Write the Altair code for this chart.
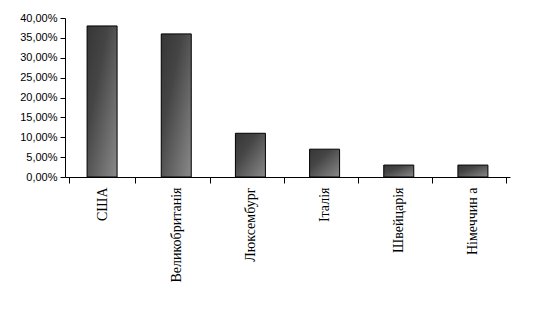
import altair as alt
import pandas as pd

countries = ["США", "Великобританія", "Люксембург", "Італія", "Швейцарія", "Німеччин а"]
shares = [38, 36, 11, 7, 3, 3]
y_ticks = [0, 5, 10, 15, 20, 25, 30, 35, 40]

df = pd.DataFrame({"country": countries, "share": shares})

grad = alt.Gradient(
    gradient="linear",
    stops=[alt.GradientStop(color="#363636", offset=0),
           alt.GradientStop(color="#454545", offset=0.35),
           alt.GradientStop(color="#8a8a8a", offset=1)],
    x1=0, y1=0, x2=1, y2=1,
)

chart = alt.Chart(df).mark_bar(
    fill=grad, stroke="black", strokeWidth=1, width=30
).encode(
    x=alt.X("country:N", sort=countries, title=None,
            axis=alt.Axis(labelAngle=-90, tickBand="extent", labelFont="Liberation Serif",
                          labelFontSize=14, labelColor="black", domainColor="black",
                          tickColor="black", tickSize=6, labelPadding=4)),
    y=alt.Y("share:Q", title=None, scale=alt.Scale(domain=[0, 40], nice=False),
            axis=alt.Axis(values=y_ticks, grid=False, domainColor="black", tickColor="black",
                          tickSize=5, labelFont="Liberation Sans", labelFontSize=11,
                          labelColor="black", labelPadding=3,
                          labelExpr="replace(format(datum.value, '.2f'), '.', ',') + '%'")),
).properties(
    width=445, height=159,
    autosize=alt.AutoSizeParams(type="none"),
    padding={"left": 65, "top": 18, "right": 26, "bottom": 132},
    background="white",
).configure_view(stroke=None)

chart.save("out.html", embed_options={"renderer": "svg", "actions": False})
